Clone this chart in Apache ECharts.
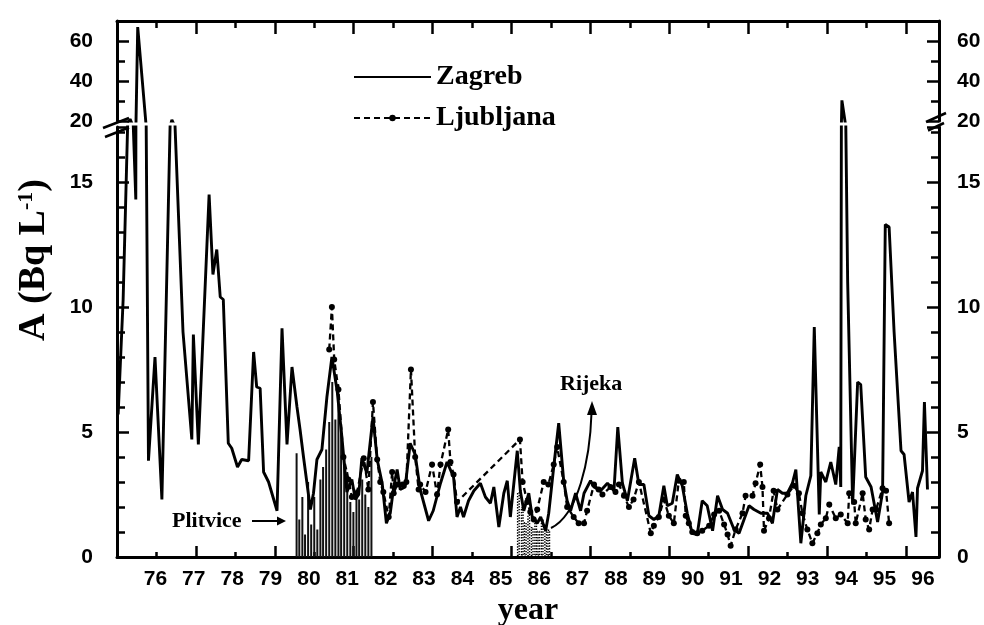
<!DOCTYPE html>
<html><head><meta charset="utf-8">
<script src="https://cdn.jsdelivr.net/npm/echarts@6/dist/echarts.min.js"></script>
<style>html,body{margin:0;padding:0;background:#fff}#c{width:984px;height:625px}</style>
</head><body><div id="c"></div>
<script>
// ---------------- data ----------------
const yearLabels = [76,77,78,79,80,81,82,83,84,85,86,87,88,89,90,91,92,93,94,95,96];
const lowerYLabels = [0,5,10,15];
const upperYLabels = [20,40,60];

const zagrebYears = [
75.03,75.16,75.34,75.49,75.54,75.82,75.99,76.17,76.43,76.72,
76.95,76.99,77.12,77.40,77.50,77.60,77.69,77.77,77.90,77.99,
78.14,78.25,78.43,78.56,78.64,78.73,78.82,78.95,79.17,79.30,
79.43,79.56,79.69,79.77,79.86,80.04,80.12,80.21,80.34,80.47,
80.60,80.74,80.86,80.99,81.12,81.21,81.30,81.38,81.51,81.67,
81.78,81.91,82.02,82.12,82.21,82.30,82.38,82.51,82.64,82.77,
82.90,83.12,83.24,83.43,83.60,83.77,83.86,83.95,84.03,84.16,
84.30,84.47,84.60,84.73,84.82,84.95,85.08,85.17,85.25,85.43,
85.51,85.60,85.73,85.82,85.95,86.04,86.17,86.25,86.38,86.51,
86.64,86.73,86.82,86.95,87.08,87.17,87.34,87.43,87.60,87.78,
87.95,88.05,88.17,88.30,88.49,88.60,88.73,88.86,88.99,89.12,
89.25,89.34,89.47,89.60,89.73,89.86,89.99,90.12,90.25,90.38,
90.52,90.65,90.78,90.91,91.08,91.21,91.34,91.47,91.60,91.78,
91.95,92.08,92.21,92.34,92.47,92.60,92.69,92.82,92.95,93.08,
93.17,93.30,93.34,93.47,93.60,93.73,93.82,93.86,93.89,94.04,
94.17,94.30,94.38,94.51,94.65,94.82,94.95,95.02,95.12,95.25,
95.43,95.51,95.64,95.73,95.82,95.86,95.99,96.04,96.12];
const zagrebValues = [
5.7,10.3,21.0,14.3,67,3.85,8.0,2.3,20.5,9.0,
4.7,8.9,4.5,14.5,11.3,12.3,10.4,10.3,4.55,4.35,
3.6,3.9,3.85,8.2,6.8,6.75,3.4,3.0,1.85,9.15,
4.5,7.6,6.0,5.1,4.0,1.9,2.55,3.9,4.3,6.4,
8.0,6.6,4.8,2.6,3.1,2.3,2.5,3.95,3.35,5.6,
3.9,2.95,1.35,1.75,2.8,3.5,2.7,2.8,4.55,4.1,
2.7,1.45,1.85,2.95,3.8,3.2,1.6,2.0,1.6,2.25,
2.65,2.95,2.4,2.15,2.8,1.2,2.55,3.05,1.6,4.25,
2.65,1.85,2.55,1.6,1.35,1.6,1.05,1.75,3.6,5.35,
3.05,2.25,1.85,2.55,1.85,2.55,3.05,2.8,2.65,2.95,
2.65,5.2,2.95,2.25,3.95,2.9,2.9,1.65,1.5,1.65,
2.85,2.05,2.15,3.3,2.85,1.75,0.95,0.9,2.25,2.05,
1.05,2.45,1.9,1.75,1.1,0.95,1.5,2.05,1.9,1.75,
1.75,1.35,2.7,2.55,2.55,2.95,3.5,0.55,2.45,3.25,
9.2,1.7,3.4,3.0,3.8,2.9,4.4,2.8,30.3,11.0,
2.1,7.0,6.9,3.2,2.8,1.4,2.6,13.3,13.2,9.0,
4.25,4.1,2.2,2.6,0.8,2.75,3.45,6.2,2.7];

const ljubljanaYears = [
80.53,80.60,80.66,80.77,80.90,81.03,81.12,81.25,81.43,81.55,
81.67,81.78,81.86,81.94,82.08,82.17,82.21,82.30,82.44,82.54,
82.66,82.77,82.86,82.90,83.04,83.21,83.34,83.43,83.63,83.69,
83.77,83.86,85.50,85.57,85.69,85.77,85.86,85.95,86.12,86.24,
86.38,86.47,86.64,86.73,86.90,87.03,87.17,87.25,87.43,87.55,
87.65,87.86,87.99,88.08,88.21,88.34,88.46,88.60,88.91,88.99,
89.12,89.25,89.38,89.51,89.64,89.77,89.82,89.90,89.99,90.12,
90.25,90.43,90.56,90.69,90.82,90.91,90.99,91.12,91.30,91.38,
91.56,91.64,91.76,91.82,91.86,91.99,92.11,92.21,92.47,92.64,
92.77,92.86,92.99,93.12,93.25,93.34,93.47,93.56,93.73,93.86,
94.04,94.08,94.21,94.25,94.43,94.51,94.60,94.69,94.78,94.95,
95.04,95.12];
const ljubljanaValues = [
8.3,10.0,7.9,6.7,4.0,3.1,2.4,2.55,3.95,2.7,
6.2,3.9,3.0,2.6,1.6,3.4,2.55,2.9,2.9,3.0,
7.5,4.0,2.7,2.9,2.6,3.7,2.5,3.7,5.1,3.8,
3.3,2.2,4.7,3.0,2.2,1.8,1.5,1.9,3.0,2.9,
3.7,4.4,3.0,2.0,1.6,1.35,1.35,1.85,2.9,2.7,
2.5,2.8,2.6,2.9,2.45,2.0,2.3,3.0,0.95,1.25,
1.6,2.3,1.65,1.35,3.05,3.0,1.65,1.35,1.0,0.95,
1.05,1.25,1.7,1.85,1.3,0.9,0.45,1.1,1.75,2.45,
2.45,2.95,3.7,2.8,1.05,1.55,2.65,1.9,2.5,2.85,
2.55,1.75,1.1,0.55,0.95,1.3,1.55,2.1,1.55,1.7,
1.35,2.55,2.2,1.35,2.55,1.5,1.1,1.9,1.9,2.75,
2.65,1.35];

const plitviceYears = [79.68,79.75,79.83,79.90,79.98,80.06,80.14,80.22,80.30,80.37,
80.45,80.53,80.61,80.69,80.77,80.84,80.92,81.00,81.08,81.16,81.24,81.31,81.39,81.47,81.55,81.63];
const plitviceValues = [4.15,1.5,2.4,0.9,3.0,1.3,2.4,1.1,3.1,3.6,
4.3,5.4,7.0,5.5,6.9,5.2,4.0,3.4,2.2,1.8,2.7,2.3,3.1,2.5,2.0,4.0];

const rijekaYears = [85.46,85.56,85.64,85.73,85.82,85.91,85.99,86.08,86.17,86.25];
const rijekaValues = [2.6,2.0,1.4,1.7,1.2,1.5,1.05,1.5,1.3,1.1];

// ---------------- chart ----------------
const pair = (xs, ys) => xs.map((x, i) => [x, ys[i]]);
const sans = '"Liberation Sans", Arial, sans-serif';
const serif = '"Liberation Serif", "Times New Roman", serif';
const tickLine = {color: '#000', width: 2.5};
const axisLine = {show: true, onZero: false, lineStyle: {color: '#000', width: 3}};
const noLine = {show: false, onZero: false};
const tickLabel = {fontFamily: sans, fontSize: 21, fontWeight: 'bold', color: '#000'};

function tickX(grid, pos, interval, len, line) {
  return {type: 'value', gridIndex: grid, position: pos, min: 75, max: 95.84, interval: interval,
    axisLine: line ? axisLine : noLine, axisTick: {show: true, inside: true, length: len, lineStyle: tickLine},
    axisLabel: {show: false}, splitLine: {show: false}};
}
function tickY(grid, pos, min, max, interval, len, line, labels, margin) {
  return {type: 'value', gridIndex: grid, position: pos, min: min, max: max, interval: interval,
    axisLine: line ? axisLine : noLine, axisTick: {show: true, inside: true, length: len, lineStyle: tickLine},
    axisLabel: labels ? Object.assign({show: true, margin: margin,
      formatter: v => labels.includes(v) ? String(v) : ''}, tickLabel) : {show: false},
    splitLine: {show: false}};
}

const lineStyleZ = {color: '#000', width: 2.9};

const option = {
  animation: false,
  backgroundColor: '#fff',
  grid: [
    {left: 117, right: 45, top: 127, bottom: 68, outerBoundsMode: 'none'},
    {left: 117, right: 45, top: 21, height: 100, outerBoundsMode: 'none'}
  ],
  xAxis: [
    {type: 'value', gridIndex: 0, position: 'bottom', min: 75, max: 96.42, interval: 1,
     axisLine: noLine, axisTick: {show: false}, splitLine: {show: false},
     axisLabel: Object.assign({margin: 12, formatter: v => yearLabels.includes(v) ? String(v) : ''}, tickLabel),
     name: 'year', nameLocation: 'middle', nameGap: 33,
     nameTextStyle: {fontFamily: serif, fontSize: 32, fontWeight: 'bold', color: '#000'}},
    tickX(0, 'bottom', 1, 5, true),
    tickX(0, 'bottom', 2, 11, false),
    {type: 'value', gridIndex: 1, position: 'top', min: 75, max: 96.42, show: false},
    tickX(1, 'top', 1, 7, true),
    tickX(1, 'top', 2, 13, false),
    {type: 'value', gridIndex: 0, position: 'bottom', min: 75, max: 96.42, show: false}
  ],
  yAxis: [
    tickY(0, 'left', 0, 17.2, 1, 8, true, null, 0),
    tickY(0, 'left', 0, 17.2, 5, 12, false, lowerYLabels, 24),
    tickY(0, 'right', 0, 17.2, 1, 8, true, null, 0),
    tickY(0, 'right', 0, 17.2, 5, 12, false, lowerYLabels, 18),
    tickY(1, 'left', 20, 70, 10, 8, true, null, 0),
    tickY(1, 'left', 20, 70, 20, 12, false, upperYLabels, 24),
    tickY(1, 'right', 20, 70, 10, 8, true, null, 0),
    tickY(1, 'right', 20, 70, 20, 12, false, upperYLabels, 18)
  ],
  legend: {
    data: [{name: 'Zagreb', itemStyle: {opacity: 0}}, {name: 'Ljubljana'}],
    orient: 'vertical', left: 348, top: 58,
    itemWidth: 77, itemHeight: 8, itemGap: 13, selectedMode: false,
    textStyle: {fontFamily: serif, fontSize: 28, fontWeight: 'bold', color: '#000', lineHeight: 28}
  },
  series: [
    {name: 'Plitvice', type: 'bar', xAxisIndex: 0, yAxisIndex: 0, data: pair(plitviceYears, plitviceValues),
     barWidth: 2, itemStyle: {color: '#111'}, z: 1},
    {name: 'Rijeka', type: 'bar', xAxisIndex: 6, yAxisIndex: 0, data: pair(rijekaYears, rijekaValues),
     barWidth: 3, itemStyle: {color: 'rgba(0,0,0,0)', borderColor: '#000', borderWidth: 1.4, borderType: 'dotted'}, z: 1},
    {name: 'Ljubljana', type: 'line', xAxisIndex: 0, yAxisIndex: 0, data: pair(ljubljanaYears, ljubljanaValues),
     symbol: 'circle', symbolSize: 6, showSymbol: true,
     lineStyle: {color: '#000', width: 2.3, type: [6, 4]}, itemStyle: {color: '#000'}, z: 3},
    {name: 'Zagreb', type: 'line', xAxisIndex: 0, yAxisIndex: 0, data: pair(zagrebYears, zagrebValues),
     symbol: 'none', lineStyle: lineStyleZ, itemStyle: {color: '#000'}, z: 4},
    {name: 'Zagreb', type: 'line', xAxisIndex: 3, yAxisIndex: 4, data: pair(zagrebYears, zagrebValues),
     symbol: 'none', lineStyle: lineStyleZ, itemStyle: {color: '#000'}, z: 4}
  ],
  graphic: [
    {type: 'text', x: 34, y: 260, rotation: Math.PI / 2,
     style: {text: '{a|A (Bq L}{s|-1}{a|)}', align: 'center', verticalAlign: 'middle',
       rich: {a: {fontFamily: serif, fontSize: 38, fontWeight: 'bold', fill: '#000'},
              s: {fontFamily: serif, fontSize: 22, fontWeight: 'bold', fill: '#000', verticalAlign: 'top'}}}},
    {type: 'text', x: 172, y: 521, style: {text: 'Plitvice', fontFamily: serif, fontSize: 22, fontWeight: 'bold', fill: '#000', verticalAlign: 'middle'}},
    {type: 'line', shape: {x1: 252, y1: 521, x2: 279, y2: 521}, style: {stroke: '#000', lineWidth: 2}},
    {type: 'polygon', shape: {points: [[277, 516.5], [286, 521], [277, 525.5]]}, style: {fill: '#000'}},
    {type: 'text', x: 560, y: 384, style: {text: 'Rijeka', fontFamily: serif, fontSize: 22, fontWeight: 'bold', fill: '#000', verticalAlign: 'middle'}},
    {type: 'bezierCurve', shape: {x1: 551, y1: 528, cpx1: 578, cpy1: 515, cpx2: 590, cpy2: 460, x2: 591.5, y2: 413},
     style: {stroke: '#000', lineWidth: 2, fill: null}},
    {type: 'polygon', shape: {points: [[587, 415], [592, 401], [597, 415]]}, style: {fill: '#000'}},
    {type: 'line', shape: {x1: 103, y1: 128, x2: 129, y2: 118}, style: {stroke: '#000', lineWidth: 2.5}},
    {type: 'line', shape: {x1: 105, y1: 137, x2: 129, y2: 127.5}, style: {stroke: '#000', lineWidth: 2.5}},
    {type: 'line', shape: {x1: 926, y1: 122, x2: 946, y2: 113}, style: {stroke: '#000', lineWidth: 2.5}},
    {type: 'line', shape: {x1: 928, y1: 130.5, x2: 944, y2: 123}, style: {stroke: '#000', lineWidth: 2.5}}
  ]
};

const chart = echarts.init(document.getElementById('c'), null, {renderer: 'canvas'});
chart.setOption(option);
</script>
</body></html>
